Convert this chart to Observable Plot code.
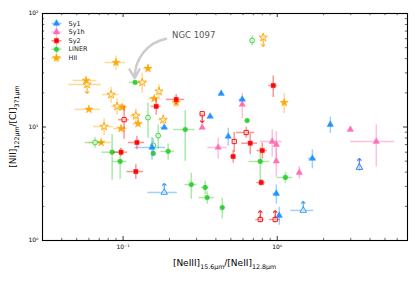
<!DOCTYPE html>
<html><head><meta charset="utf-8">
<script src="https://cdn.jsdelivr.net/npm/d3@7"></script>
<script src="https://cdn.jsdelivr.net/npm/@observablehq/plot@0.6"></script>
<style>body{margin:0;background:#fff}#chart{width:415px;height:282px}</style>
</head><body><div id="chart"></div>
<script>
// ---- categories / styles ----
const classes = ["Sy1", "Sy1h", "Sy2", "LINER", "HII"];
const classColors = ["#1e90ff", "#ff69b4", "#ff0000", "#32cd32", "#ffa500"];
const classSymbols = ["triangle", "triangle", "square", "circle", "star"];

// ---- HII ----
const hiiX    = [0.090, 0.145, 0.0575, 0.0584, 0.133, 0.060, 0.0836, 0.0914, 0.0986, 0.171, 0.159, 0.121, 0.125, 0.0753, 0.097, 0.182, 0.221, 0.811, 1.11, 0.072];
const hiiY    = [37, 32.8, 25.7, 23.7, 24.7, 14.3, 19.3, 15.2, 14.9, 20.6, 17.8, 12.6, 10.7, 10.1, 9.7, 11.6, 16.4, 61.5, 16.4, 7.3];
const hiiXerr = [0.0135, 0.009, 0.010, 0.014, 0.01, 0.011, 0.01, 0.007, 0.008, 0.006, 0.012, 0.009, 0.009, 0.011, 0.01, 0.012, 0.01, 0.03, 0.04, 0.012];
const hiiYerr = [5.3, 2.7, 1.6, 0.8, 5, 0.5, 3, 2.5, 1, 3, 0.8, 1.8, 0.7, 1.7, 0.6, 1.2, 1.5, 4, 3.3, 0.3];
const hiiOpen = [0, 0, 0, 1, 1, 0, 1, 1, 0, 1, 0, 1, 0, 1, 0, 1, 0, 1, 0, 0];
const hiiLim  = ["", "", "", "down", "", "", "", "", "", "", "", "", "", "", "", "", "", "down", "", ""];

// ---- LINER ----
const linerX    = [0.1196, 0.688, 0.145, 0.169, 0.0658, 0.0849, 0.0957, 0.157, 0.157, 0.196, 0.253, 0.277, 0.341, 0.351, 0.44, 0.776, 1.13, 0.638];
const linerY    = [24.7, 57.8, 12.1, 8.4, 7.3, 6.0, 4.97, 6.9, 5.84, 6.1, 9.5, 3.11, 2.93, 2.39, 1.95, 4.97, 3.59, 11.4];
const linerXerr = [0.01, 0.02, 0.005, 0.006, 0.009, 0.012, 0.01, 0.005, 0.004, 0.02, 0.04, 0.025, 0.02, 0.04, 0.01, 0.12, 0.13, 0.01];
const linerYerr = [0.5, 6, 4.2, 2, 0.8, 2.6, 1.5, 1, 0.3, 1, 4.5, 0.8, 0.4, 0.3, 0.4, 1.7, 0.4, 0.5];
const linerOpen = [0, 1, 1, 1, 1, 0, 0, 1, 0, 0, 0, 0, 0, 0, 0, 0, 0, 0];
const linerLim  = ["", "", "", "", "", "", "", "", "", "", "", "", "", "", "", "", "", ""];

// ---- Sy2 ----
const sy2X    = [0.221, 0.164, 0.1015, 0.326, 0.942, 0.629, 0.123, 0.097, 0.121, 0.526, 0.668, 0.518, 0.80, 0.787, 0.776, 0.97];
const sy2Y    = [17.5, 15.2, 11.6, 13.1, 23.2, 8.95, 7.3, 6.0, 4.05, 7.45, 7.2, 5.5, 6.2, 3.24, 1.53, 1.53];
const sy2Xerr = [0.03, 0.012, 0.008, 0.01, 0.06, 0.085, 0.015, 0.01, 0.015, 0.01, 0.08, 0.02, 0.06, 0.05, 0.05, 0.08];
const sy2Yerr = [1.8, 2.5, 3.8, 0, 5, 1, 1, 0.5, 0.6, 1.5, 1.5, 0.7, 1, 0.2, 0.1, 0.1];
const sy2Open = [0, 0, 1, 1, 0, 1, 0, 0, 0, 1, 0, 0, 0, 0, 1, 1];
const sy2Lim  = ["", "", "", "down", "", "", "", "", "", "", "", "", "", "", "up", "up"];

// ---- Sy1h ----
const sy1hX    = [0.593, 0.326, 0.414, 0.928, 0.986, 0.986, 1.39, 2.98, 4.39, 3.41];
const sy1hY    = [15.8, 9.9, 6.6, 7.45, 7.0, 5.0, 3.97, 9.5, 7.45, 4.40];
const sy1hXerr = [0.01, 0.005, 0.06, 0.15, 0.02, 0.02, 0.03, 0.05, 1.4, 0.05];
const sy1hYerr = [4, 0.5, 1.4, 2.0, 2.1, 1.4, 0.5, 0.3, 3.0, 0.3];
const sy1hOpen = [0, 0, 0, 0, 0, 0, 0, 0, 0, 1];
const sy1hLim  = ["", "", "", "", "", "", "", "", "", "up"];

// ---- Sy1 ----
const sy1X    = [0.185, 0.433, 0.367, 0.593, 0.481, 2.21, 0.154, 0.185, 0.986, 1.03, 1.69, 1.475, 3.41];
const sy1Y    = [9.9, 19.7, 12.4, 17.5, 8.25, 10.5, 6.6, 2.65, 2.59, 1.66, 5.28, 1.84, 4.40];
const sy1Xerr = [0.01, 0.01, 0.01, 0.03, 0.01, 0.05, 0.035, 0.04, 0.05, 0.03, 0.1, 0.25, 0.05];
const sy1Yerr = [0.3, 0.5, 0.5, 0.8, 1.5, 1.7, 1.5, 0, 0.5, 0.3, 1, 0, 0.3];
const sy1Open = [0, 0, 0, 0, 0, 0, 0, 1, 0, 0, 0, 1, 1];
const sy1Lim  = ["", "", "", "", "", "", "", "up", "", "", "", "up", "up"];

// ---- axis ticks / labels ----
const xMajor = [0.1, 1];
const xMajorLabels = ["10\u207B\u00B9", "10\u2070"];
const xMinor = [0.03, 0.04, 0.05, 0.06, 0.07, 0.08, 0.09, 0.2, 0.3, 0.4, 0.5, 0.6, 0.7, 0.8, 0.9, 2, 3, 4, 5, 6, 7];
const yMajor = [1, 10, 100];
const yMajorLabels = ["10\u2070", "10\u00B9", "10\u00B2"];
const yMinor = [2, 3, 4, 5, 6, 7, 8, 9, 20, 30, 40, 50, 60, 70, 80, 90];

const annotation = {label: "NGC 1097", tx: 0.208, ty: 64, x1: 0.19, y1: 60, x2: 0.119, y2: 27};

function rowsOf(cls, xs, ys, xe, ye, op, lim) {
  return xs.map((x, i) => ({cls, x, y: ys[i], xerr: xe[i], yerr: ye[i], open: op[i] === 1, lim: lim[i]}));
}
const data = [
  ...rowsOf("HII", hiiX, hiiY, hiiXerr, hiiYerr, hiiOpen, hiiLim),
  ...rowsOf("LINER", linerX, linerY, linerXerr, linerYerr, linerOpen, linerLim),
  ...rowsOf("Sy2", sy2X, sy2Y, sy2Xerr, sy2Yerr, sy2Open, sy2Lim),
  ...rowsOf("Sy1h", sy1hX, sy1hY, sy1hXerr, sy1hYerr, sy1hOpen, sy1hLim),
  ...rowsOf("Sy1", sy1X, sy1Y, sy1Xerr, sy1Yerr, sy1Open, sy1Lim)
];
const drawOrder = ["HII", "LINER", "Sy2", "Sy1h", "Sy1"];

const W = 415, H = 282, mL = 42, mR = 8, mT = 13, mB = 42;
const fw = W - mL - mR, fh = H - mT - mB;

const crossSymbol = {
  draw(ctx, size) {
    const r = Math.sqrt(size / Math.PI);
    ctx.moveTo(-r, 0); ctx.lineTo(r, 0);
    ctx.moveTo(0, -r * 0.8); ctx.lineTo(0, r * 0.8);
  }
};

const marks = [];
for (const c of drawOrder) {
  const i = classes.indexOf(c);
  const col = classColors[i], sym = classSymbols[i];
  const r = sym === "star" ? 2.6 : 2.4;
  const rows = data.filter(d => d.cls === c);
  marks.push(Plot.ruleY(rows.filter(d => d.xerr > 0), {y: "y", x1: d => d.x - d.xerr, x2: d => d.x + d.xerr, stroke: col, strokeOpacity: 0.42, strokeWidth: 1.5}));
  marks.push(Plot.ruleX(rows.filter(d => d.yerr > 0), {x: "x", y1: d => d.y - d.yerr, y2: d => d.y + d.yerr, stroke: col, strokeOpacity: 0.42, strokeWidth: 1.5}));
  marks.push(Plot.vector(rows.filter(d => d.lim), {x: "x", y: "y", length: 9, anchor: "start", rotate: d => d.lim === "up" ? 0 : 180, stroke: col, strokeWidth: 1.1, strokeOpacity: 0.85}));
  marks.push(Plot.dot(rows.filter(d => !d.open), {x: "x", y: "y", symbol: sym, r, fill: col, stroke: col, strokeWidth: 0.4, fillOpacity: 0.95}));
  marks.push(Plot.dot(rows.filter(d => d.open), {x: "x", y: "y", symbol: sym, r, fill: "white", stroke: col, strokeWidth: 0.9, fillOpacity: 0.6}));
}

// legend
classes.forEach((c, i) => {
  const dy = 10 + i * 8.6;
  marks.push(Plot.dot([c], {frameAnchor: "top-left", dx: 14, dy, symbol: crossSymbol, r: 5, stroke: classColors[i], strokeOpacity: 0.45, strokeWidth: 1.5, fill: "none"}));
  marks.push(Plot.dot([c], {frameAnchor: "top-left", dx: 14, dy, symbol: classSymbols[i], r: classSymbols[i] === "star" ? 2.6 : 2.4, fill: classColors[i], stroke: classColors[i], strokeWidth: 0.4}));
  marks.push(Plot.text([c], {frameAnchor: "top-left", dx: 26, dy, text: d => d, textAnchor: "start", lineAnchor: "middle", fontSize: 6.5, fill: "#222"}));
});

// annotation
marks.push(Plot.arrow([annotation], {x1: "x1", y1: "y1", x2: "x2", y2: "y2", bend: -40, stroke: "#cccccc", strokeWidth: 2.5, headLength: 6}));
marks.push(Plot.text([annotation], {x: "tx", y: "ty", text: "label", textAnchor: "start", fontSize: 8.5, fill: "#555"}));

// ticks (inward) on all four sides
const tk = {stroke: "black", strokeWidth: 0.8};
marks.push(Plot.tickX(xMajor, {...tk, insetTop: fh - 4}));
marks.push(Plot.tickX(xMajor, {...tk, insetBottom: fh - 4}));
marks.push(Plot.tickX(xMinor, {...tk, insetTop: fh - 2.2, strokeWidth: 0.6}));
marks.push(Plot.tickX(xMinor, {...tk, insetBottom: fh - 2.2, strokeWidth: 0.6}));
marks.push(Plot.tickY(yMajor, {...tk, insetRight: fw - 4}));
marks.push(Plot.tickY(yMajor, {...tk, insetLeft: fw - 4}));
marks.push(Plot.tickY(yMinor, {...tk, insetRight: fw - 2.2, strokeWidth: 0.6}));
marks.push(Plot.tickY(yMinor, {...tk, insetLeft: fw - 2.2, strokeWidth: 0.6}));
marks.push(Plot.frame({stroke: "black", strokeWidth: 1.1}));

marks.push(Plot.axisX({ticks: xMajor, tickSize: 0, tickPadding: 4, fontSize: 6, tickFormat: (d) => xMajorLabels[xMajor.indexOf(d)], label: null}));
marks.push(Plot.axisY({ticks: yMajor, tickSize: 0, tickPadding: 4, fontSize: 6, tickFormat: (d) => yMajorLabels[yMajor.indexOf(d)], label: null}));

const chart = Plot.plot({
  width: W, height: H,
  marginLeft: mL, marginRight: mR, marginTop: mT, marginBottom: mB,
  x: {type: "log", domain: [0.03, 7]},
  y: {type: "log", domain: [1, 100]},
  style: {fontFamily: "DejaVu Sans", background: "white", color: "black"},
  marks
});

const svg = d3.select(chart);
const xl = svg.append("text").attr("x", mL + fw / 2).attr("y", 266).attr("text-anchor", "middle")
  .attr("font-family", "DejaVu Sans").attr("font-size", 9).attr("fill", "black");
xl.append("tspan").text("[NeIII]");
xl.append("tspan").attr("font-size", 6.3).attr("dy", 2.5).text("15.6μm");
xl.append("tspan").attr("dy", -2.5).text("/[NeII]");
xl.append("tspan").attr("font-size", 6.3).attr("dy", 2.5).text("12.8μm");

const yl = svg.append("text").attr("transform", `translate(16,${mT + fh / 2}) rotate(-90)`).attr("text-anchor", "middle")
  .attr("font-family", "DejaVu Sans").attr("font-size", 9).attr("fill", "black");
yl.append("tspan").text("[NII]");
yl.append("tspan").attr("font-size", 6.3).attr("dy", 2.5).text("122μm");
yl.append("tspan").attr("dy", -2.5).text("/[CI]");
yl.append("tspan").attr("font-size", 6.3).attr("dy", 2.5).text("371μm");

document.getElementById("chart").append(chart);
</script>
</body></html>
